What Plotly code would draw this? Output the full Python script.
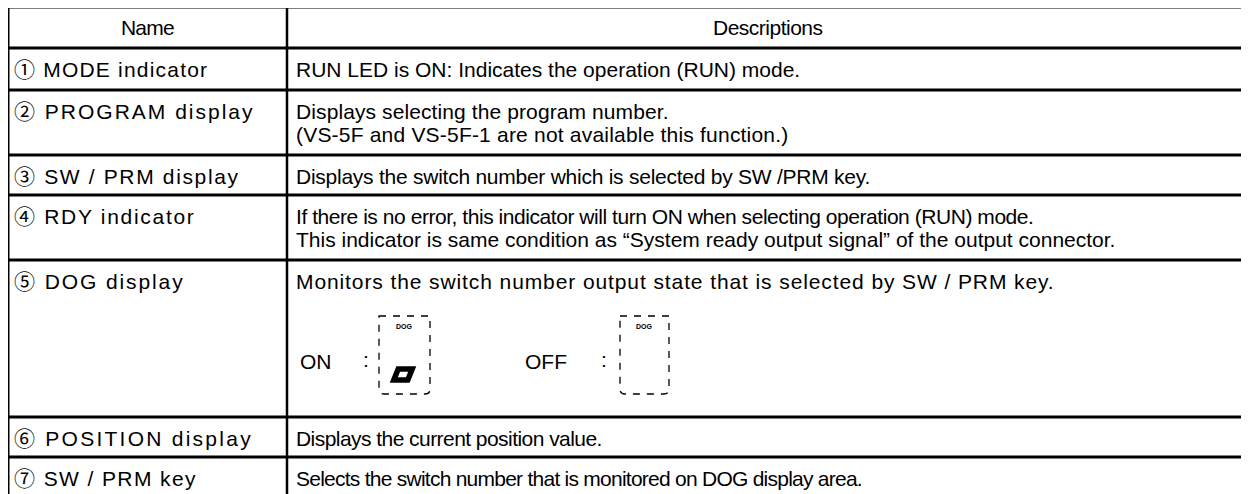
import plotly.graph_objects as go

# ---------------- data ----------------
header_name = "Name"
header_desc = "Descriptions"
names = [
    "① MODE indicator",
    "② PROGRAM display",
    "③ SW / PRM display",
    "④ RDY indicator",
    "⑤ DOG display",
    "⑥ POSITION display",
    "⑦ SW / PRM key",
]
descriptions = [
    ["RUN LED is ON: Indicates the operation (RUN) mode."],
    ["Displays selecting the program number.",
     "(VS-5F and VS-5F-1 are not available this function.)"],
    ["Displays the switch number which is selected by SW /PRM key."],
    ["If there is no error, this indicator will turn ON when selecting operation (RUN) mode.",
     "This indicator is same condition as \u201cSystem ready output signal\u201d of the output connector."],
    ["Monitors the switch number output state that is selected by SW / PRM key."],
    ["Displays the current position value."],
    ["Selects the switch number that is monitored on DOG display area."],
]
dog_states = ["ON", "OFF"]
dog_label = "DOG"

# ---------------- style config (letter spacing per text, px) ----------------
header_ls = [-0.8, -0.5]
name_ls = [1.2, 2.0, 1.65, 1.7, 1.9, 2.25, 1.4]
desc_ls = [[0.0], [0.1, 0.2], [-0.25], [-0.45, 0.0], [0.9], [-0.55], [-0.75]]

# ---------------- layout config ----------------
W, H = 1249, 494
PAD = 8  # default page margin of the html body
FONT = "Liberation Sans, Arial, Noto Sans CJK JP, sans-serif"
FS = 21
x_left, x_div, x_right = 8, 287, W
row_edges = [7, 48, 90, 155, 195, 260, 417, 457, 494]
first_line_off = 21
line_step = 23

fig = go.Figure()
shapes = []
ann = []

def hline(y, w=3):
    shapes.append(dict(type="line", xref="x", yref="y", x0=x_left - 1.5, x1=x_right + 2,
                       y0=y, y1=y, line=dict(color="black", width=w)))

def vline(x, y0, y1, w=3):
    shapes.append(dict(type="line", xref="x", yref="y", x0=x, x1=x,
                       y0=y0, y1=y1, line=dict(color="black", width=w)))

for y in row_edges[:-1]:
    hline(y)
vline(x_left, row_edges[0] - 1.5, H + 5, 3)
vline(x_div, row_edges[0], H + 5, 2.5)

def text(x, y, s, anchor="left", size=FS, bold=False, ls=0.0):
    if bold:
        s = "<b>%s</b>" % s
    if ls:
        s = '<span style="letter-spacing:%.2fpx">%s</span>' % (ls, s)
    ann.append(dict(x=x, y=y, xref="x", yref="y", text=s,
                    showarrow=False, xanchor=anchor, yanchor="middle",
                    font=dict(family=FONT, size=size, color="black")))

# header
hy = (row_edges[0] + row_edges[1]) / 2
text((x_left + x_div) / 2, hy, header_name, "center", ls=header_ls[0])
text((x_div + x_right) / 2, hy, header_desc, "center", ls=header_ls[1])

for i, (nm, lines) in enumerate(zip(names, descriptions)):
    top = row_edges[i + 1]
    y0 = top + first_line_off
    text(12, y0, nm, ls=name_ls[i])
    for j, ln in enumerate(lines):
        text(294, y0 + j * line_step, ln, ls=desc_ls[i][j])

# DOG icons in row 5
icon_top, icon_bot = 316, 394
icon_specs = [  # state label x, colon x, box x0, box x1
    (298, 366, 379, 430),
    (523, 604, 620, 669),
]
for state, (lx, cx, bx0, bx1) in zip(dog_states, icon_specs):
    text(lx, 361, state)
    text(cx, 359, ":", "center")
    r = 5
    path = (f"M {bx0},{icon_top} L {bx1},{icon_top} L {bx1},{icon_bot - r} "
            f"Q {bx1},{icon_bot} {bx1 - r},{icon_bot} L {bx0 + r},{icon_bot} "
            f"Q {bx0},{icon_bot} {bx0},{icon_bot - r} Z")
    shapes.append(dict(type="path", xref="x", yref="y", path=path,
                       line=dict(color="black", width=1.3, dash="7px,7px")))
    text((bx0 + bx1) / 2, 326, dog_label, "center", size=7, bold=True)
    if state == "ON":
        dx0, dx1, dy0, dy1, sk = 396, 410, 369, 380, 2.2
        p = (f"M {dx0 + sk},{dy0} L {dx1 + sk},{dy0} L {dx1 - sk},{dy1} "
             f"L {dx0 - sk},{dy1} Z")
        shapes.append(dict(type="path", xref="x", yref="y", path=p,
                           line=dict(color="black", width=5.5)))

fig.update_layout(
    width=W - PAD, height=H - PAD, margin=dict(l=0, r=0, t=0, b=0),
    paper_bgcolor="white", plot_bgcolor="white",
    xaxis=dict(range=[PAD, W], visible=False, fixedrange=True),
    yaxis=dict(range=[H, PAD], visible=False, fixedrange=True),
    shapes=shapes, annotations=ann, showlegend=False,
)
fig.write_html("out.html", config={"displayModeBar": False})
